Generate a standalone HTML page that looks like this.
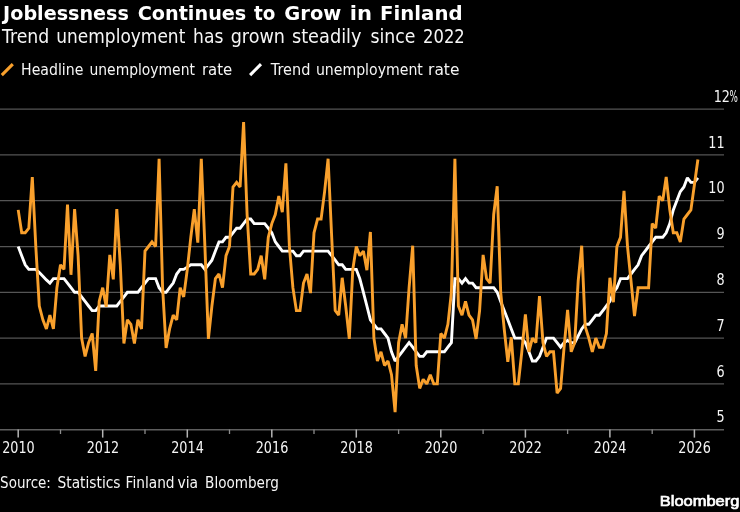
<!DOCTYPE html>
<html><head><meta charset="utf-8"><title>Joblessness Continues to Grow in Finland</title>
<style>
html,body{margin:0;padding:0;background:#000;}
svg{display:block;}
text{font-family:"DejaVu Sans","Liberation Sans",sans-serif;fill:#f6f6f6;}
.t{font-weight:bold;font-size:20px;fill:#fff;}
.s{font-size:19px;}
.l{font-size:15.3px;}
.a text{font-size:16px;}
.g line{stroke:#555;stroke-width:1.25;}
.k line{stroke:#b4b4b4;stroke-width:1.5;}
.k line.m{stroke:#8c8c8c;stroke-width:1.3;}
.b{font-family:"Liberation Sans",sans-serif;font-size:15.1px;fill:#fff;stroke:#fff;stroke-width:0.7px;}
</style></head><body>
<svg width="740" height="512" viewBox="0 0 740 512">
<rect width="740" height="512" fill="#000"/>
<text class="t" y="19.5"><tspan x="3.10" textLength="125.82" lengthAdjust="spacingAndGlyphs">Joblessness</tspan> <tspan x="137.70" textLength="108.63" lengthAdjust="spacingAndGlyphs">Continues</tspan> <tspan x="253.90" textLength="21.36" lengthAdjust="spacingAndGlyphs">to</tspan> <tspan x="284.30" textLength="57.00" lengthAdjust="spacingAndGlyphs">Grow</tspan> <tspan x="349.80" textLength="22.27" lengthAdjust="spacingAndGlyphs">in</tspan> <tspan x="380.10" textLength="82.47" lengthAdjust="spacingAndGlyphs">Finland</tspan></text>
<text class="s" y="42.8"><tspan x="1.90" textLength="47.43" lengthAdjust="spacingAndGlyphs">Trend</tspan> <tspan x="56.30" textLength="129.02" lengthAdjust="spacingAndGlyphs">unemployment</tspan> <tspan x="193.10" textLength="30.30" lengthAdjust="spacingAndGlyphs">has</tspan> <tspan x="230.70" textLength="54.30" lengthAdjust="spacingAndGlyphs">grown</tspan> <tspan x="291.90" textLength="69.62" lengthAdjust="spacingAndGlyphs">steadily</tspan> <tspan x="370.50" textLength="45.00" lengthAdjust="spacingAndGlyphs">since</tspan> <tspan x="423.10" textLength="41.66" lengthAdjust="spacingAndGlyphs">2022</tspan></text>
<line x1="1.8" y1="75.1" x2="12.8" y2="64.1" stroke="#f9a02c" stroke-width="3.1"/>
<text class="l" y="74.9"><tspan x="21.10" textLength="62.25" lengthAdjust="spacingAndGlyphs">Headline</tspan> <tspan x="89.50" textLength="105.41" lengthAdjust="spacingAndGlyphs">unemployment</tspan> <tspan x="201.90" textLength="30.28" lengthAdjust="spacingAndGlyphs">rate</tspan></text>
<line x1="250.1" y1="75.1" x2="261" y2="64.1" stroke="#fff" stroke-width="3.1"/>
<text class="l" y="74.9"><tspan x="270.70" textLength="39.66" lengthAdjust="spacingAndGlyphs">Trend</tspan> <tspan x="315.90" textLength="107.00" lengthAdjust="spacingAndGlyphs">unemployment</tspan> <tspan x="428.10" textLength="31.31" lengthAdjust="spacingAndGlyphs">rate</tspan></text>
<g class="g"><line x1="0" x2="724" y1="383.86" y2="383.86"/><line x1="0" x2="724" y1="338.08" y2="338.08"/><line x1="0" x2="724" y1="292.29" y2="292.29"/><line x1="0" x2="724" y1="246.51" y2="246.51"/><line x1="0" x2="724" y1="200.72" y2="200.72"/><line x1="0" x2="724" y1="154.93" y2="154.93"/><line x1="0" x2="724" y1="109.15" y2="109.15"/></g>
<line x1="0" x2="724" y1="429.85" y2="429.85" stroke="#5e5e5e" stroke-width="1.5"/>
<g class="k"><line x1="18.2" x2="18.2" y1="429.5" y2="437.6"/><line class="m" x1="60.5" x2="60.5" y1="429.5" y2="434"/><line x1="102.7" x2="102.7" y1="429.5" y2="437.6"/><line class="m" x1="145.0" x2="145.0" y1="429.5" y2="434"/><line x1="187.3" x2="187.3" y1="429.5" y2="437.6"/><line class="m" x1="229.5" x2="229.5" y1="429.5" y2="434"/><line x1="271.8" x2="271.8" y1="429.5" y2="437.6"/><line class="m" x1="314.0" x2="314.0" y1="429.5" y2="434"/><line x1="356.3" x2="356.3" y1="429.5" y2="437.6"/><line class="m" x1="398.6" x2="398.6" y1="429.5" y2="434"/><line x1="440.8" x2="440.8" y1="429.5" y2="437.6"/><line class="m" x1="483.1" x2="483.1" y1="429.5" y2="434"/><line x1="525.4" x2="525.4" y1="429.5" y2="437.6"/><line class="m" x1="567.6" x2="567.6" y1="429.5" y2="434"/><line x1="609.9" x2="609.9" y1="429.5" y2="437.6"/><line class="m" x1="652.2" x2="652.2" y1="429.5" y2="434"/><line x1="694.4" x2="694.4" y1="429.5" y2="437.6"/></g>
<g class="a"><text transform="translate(724.6,422.0) scale(0.8,1)" text-anchor="end">5</text><text transform="translate(724.6,377.0) scale(0.8,1)" text-anchor="end">6</text><text transform="translate(724.6,331.0) scale(0.8,1)" text-anchor="end">7</text><text transform="translate(724.6,285.0) scale(0.8,1)" text-anchor="end">8</text><text transform="translate(724.6,239.0) scale(0.8,1)" text-anchor="end">9</text><text transform="translate(724.6,193.0) scale(0.8,1)" text-anchor="end">10</text><text transform="translate(724.6,148.0) scale(0.8,1)" text-anchor="end">11</text><text transform="translate(730.0,102.0) scale(0.8,1)" text-anchor="end">12</text><text transform="translate(729.6,102.0) scale(0.55,1)">%</text><text transform="translate(18.4,452.6) scale(0.8,1)" text-anchor="middle">2010</text><text transform="translate(102.9,452.6) scale(0.8,1)" text-anchor="middle">2012</text><text transform="translate(187.5,452.6) scale(0.8,1)" text-anchor="middle">2014</text><text transform="translate(272.0,452.6) scale(0.8,1)" text-anchor="middle">2016</text><text transform="translate(356.5,452.6) scale(0.8,1)" text-anchor="middle">2018</text><text transform="translate(441.0,452.6) scale(0.8,1)" text-anchor="middle">2020</text><text transform="translate(525.6,452.6) scale(0.8,1)" text-anchor="middle">2022</text><text transform="translate(610.1,452.6) scale(0.8,1)" text-anchor="middle">2024</text><text transform="translate(694.6,452.6) scale(0.8,1)" text-anchor="middle">2026</text></g>
<polyline fill="none" stroke="#fff" stroke-width="2.9" stroke-linejoin="miter" stroke-miterlimit="2" stroke-linecap="butt" points="18.2,246.5 21.7,255.7 25.2,264.8 28.8,269.4 32.3,269.4 35.8,269.4 39.3,272.6 42.9,276.3 46.4,279.9 49.9,283.1 53.4,278.6 56.9,278.6 60.5,278.6 64.0,278.6 67.5,283.1 71.0,287.7 74.6,292.3 78.1,292.3 81.6,296.9 85.1,301.4 88.6,306.0 92.2,310.6 95.7,310.6 99.2,306.0 102.7,306.0 106.2,306.0 109.8,306.0 113.3,306.0 116.8,306.0 120.3,301.4 123.9,296.9 127.4,292.3 130.9,292.3 134.4,292.3 137.9,292.3 141.5,287.7 145.0,283.1 148.5,278.6 152.0,278.6 155.6,278.6 159.1,287.7 162.6,292.3 166.1,292.3 169.6,287.7 173.2,283.1 176.7,274.0 180.2,269.4 183.7,269.4 187.3,267.1 190.8,264.8 194.3,264.8 197.8,264.8 201.3,264.8 204.9,269.4 208.4,264.8 211.9,260.2 215.4,251.1 219.0,241.9 222.5,241.9 226.0,237.3 229.5,237.3 233.0,232.8 236.6,228.2 240.1,228.2 243.6,223.6 247.1,219.0 250.7,219.0 254.2,223.6 257.7,223.6 261.2,223.6 264.7,223.6 268.3,228.2 271.8,232.8 275.3,241.9 278.8,246.5 282.3,251.1 285.9,251.1 289.4,251.1 292.9,251.1 296.4,255.7 300.0,255.7 303.5,251.1 307.0,251.1 310.5,251.1 314.0,251.1 317.6,251.1 321.1,251.1 324.6,251.1 328.1,251.1 331.7,255.7 335.2,260.2 338.7,264.8 342.2,264.8 345.7,269.4 349.3,269.4 352.8,269.4 356.3,269.4 359.8,278.6 363.4,292.3 366.9,306.0 370.4,319.8 373.9,324.3 377.4,328.9 381.0,328.9 384.5,333.5 388.0,338.1 391.5,351.8 395.1,361.0 398.6,356.4 402.1,351.8 405.6,347.2 409.1,342.7 412.7,347.2 416.2,351.8 419.7,356.4 423.2,356.4 426.8,351.8 430.3,351.8 433.8,351.8 437.3,351.8 440.8,351.8 444.4,351.8 447.9,347.2 451.4,342.7 454.9,278.6 458.4,278.6 462.0,283.1 465.5,278.6 469.0,283.1 472.5,283.1 476.1,287.7 479.6,287.7 483.1,287.7 486.6,287.7 490.1,287.7 493.7,287.7 497.2,292.3 500.7,301.4 504.2,310.6 507.8,319.8 511.3,328.9 514.8,338.1 518.3,338.1 521.8,338.1 525.4,342.7 528.9,351.8 532.4,361.0 535.9,361.0 539.5,356.4 543.0,347.2 546.5,338.1 550.0,338.1 553.5,338.1 557.1,342.7 560.6,347.2 564.1,342.7 567.6,340.4 571.2,342.7 574.7,342.7 578.2,335.8 581.7,328.9 585.2,324.3 588.8,324.3 592.3,319.8 595.8,315.2 599.3,315.2 602.9,310.6 606.4,306.0 609.9,301.4 613.4,292.3 616.9,287.7 620.5,278.6 624.0,278.6 627.5,278.6 631.0,274.0 634.5,269.4 638.1,264.8 641.6,255.7 645.1,251.1 648.6,246.5 652.2,241.9 655.7,237.3 659.2,237.3 662.7,237.3 666.2,232.8 669.8,223.6 673.3,209.9 676.8,200.7 680.3,191.6 683.9,187.0 687.4,177.8 690.9,182.4 694.4,182.4 697.9,177.8"/>
<polyline fill="none" stroke="#f9a02c" stroke-width="2.9" stroke-linejoin="miter" stroke-miterlimit="2" stroke-linecap="butt" points="18.2,209.9 21.7,232.8 25.2,232.8 28.8,228.2 32.3,177.0 35.8,246.5 39.3,306.0 42.9,319.8 46.4,328.9 49.9,315.2 53.4,328.9 56.9,287.7 60.5,264.8 64.0,269.4 67.5,204.5 71.0,274.8 74.6,209.1 78.1,255.7 81.6,338.1 85.1,356.4 88.6,342.7 92.2,333.5 95.7,370.9 99.2,301.4 102.7,287.7 106.2,306.8 109.8,254.9 113.3,279.4 116.8,209.1 120.3,264.8 123.9,343.5 127.4,319.8 130.9,324.3 134.4,343.5 137.9,319.8 141.5,328.9 145.0,251.1 148.5,246.5 152.0,241.9 155.6,246.5 159.1,158.7 162.6,287.7 166.1,348.0 169.6,328.9 173.2,315.2 176.7,319.8 180.2,287.7 183.7,296.9 187.3,269.4 190.8,237.3 194.3,209.1 197.8,242.7 201.3,158.7 204.9,246.5 208.4,338.9 211.9,306.0 215.4,278.6 219.0,274.0 222.5,287.7 226.0,255.7 229.5,246.5 233.0,187.0 236.6,182.4 240.1,187.0 243.6,122.1 247.1,214.5 250.7,274.0 254.2,274.0 257.7,269.4 261.2,255.7 264.7,279.4 268.3,237.3 271.8,223.6 275.3,214.5 278.8,196.1 282.3,212.2 285.9,163.3 289.4,246.5 292.9,287.7 296.4,310.6 300.0,310.6 303.5,283.1 307.0,274.0 310.5,293.1 314.0,232.8 317.6,219.0 321.1,219.0 324.6,191.6 328.1,158.7 331.7,237.3 335.2,310.6 338.7,315.2 342.2,277.8 345.7,306.0 349.3,338.9 352.8,269.4 356.3,246.5 359.8,255.7 363.4,251.1 366.9,270.2 370.4,232.0 373.9,338.1 377.4,361.0 381.0,351.8 384.5,365.5 388.0,361.0 391.5,374.7 395.1,412.1 398.6,342.7 402.1,324.3 405.6,338.1 409.1,287.7 412.7,245.7 416.2,365.5 419.7,388.4 423.2,379.3 426.8,383.9 430.3,374.7 433.8,383.9 437.3,383.9 440.8,333.5 444.4,338.1 447.9,324.3 451.4,292.3 454.9,158.7 458.4,306.0 462.0,315.2 465.5,301.4 469.0,315.2 472.5,319.8 476.1,338.9 479.6,310.6 483.1,254.9 486.6,278.6 490.1,283.1 493.7,214.5 497.2,186.2 500.7,292.3 504.2,328.9 507.8,361.8 511.3,337.3 514.8,383.9 518.3,383.9 521.8,351.8 525.4,314.4 528.9,351.8 532.4,338.1 535.9,342.7 539.5,296.1 543.0,342.7 546.5,356.4 550.0,351.8 553.5,351.8 557.1,393.0 560.6,388.4 564.1,347.2 567.6,309.8 571.2,351.8 574.7,342.7 578.2,280.8 581.7,245.7 585.2,326.6 588.8,338.1 592.3,351.8 595.8,338.1 599.3,347.2 602.9,347.2 606.4,333.5 609.9,277.8 613.4,302.2 616.9,246.5 620.5,237.3 624.0,190.8 627.5,246.5 631.0,280.8 634.5,316.0 638.1,287.7 641.6,287.7 645.1,287.7 648.6,287.7 652.2,223.6 655.7,228.2 659.2,196.1 662.7,200.7 666.2,177.0 669.8,209.9 673.3,232.8 676.8,232.8 680.3,241.9 683.9,219.0 687.4,214.5 690.9,209.9 694.4,184.7 697.9,159.5"/>
<text class="l" y="487.6"><tspan x="0.10" textLength="50.83" lengthAdjust="spacingAndGlyphs">Source:</tspan> <tspan x="57.50" textLength="63.00" lengthAdjust="spacingAndGlyphs">Statistics</tspan> <tspan x="125.50" textLength="49.06" lengthAdjust="spacingAndGlyphs">Finland</tspan> <tspan x="177.50" textLength="20.66" lengthAdjust="spacingAndGlyphs">via</tspan> <tspan x="205.10" textLength="73.82" lengthAdjust="spacingAndGlyphs">Bloomberg</tspan></text>
<text class="b" x="659.8" y="506" textLength="79.6" lengthAdjust="spacingAndGlyphs">Bloomberg</text>
</svg>
</body></html>
